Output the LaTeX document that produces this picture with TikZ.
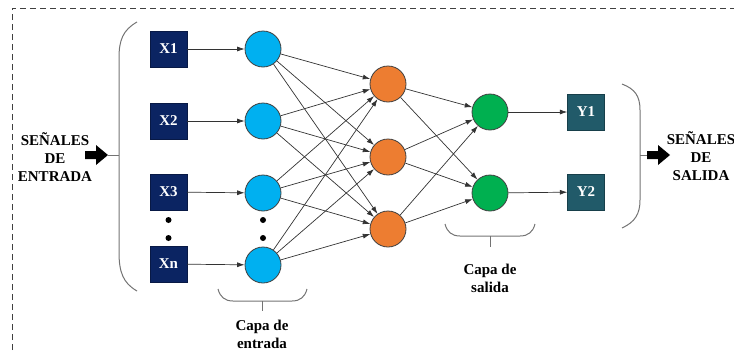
\documentclass[tikz,border=0pt]{standalone}
\usepackage{fontspec}
\setmainfont{Liberation Serif}
\usetikzlibrary{arrows.meta}
\definecolor{inbox}{HTML}{0B2462}
\definecolor{outbox}{HTML}{215A69}
\definecolor{nblue}{HTML}{00B0F0}
\definecolor{norange}{HTML}{ED7D31}
\definecolor{ngreen}{HTML}{00B050}
\definecolor{wire}{HTML}{333333}
\tikzset{
  inputbox/.style={draw=inbox!70!black, fill=inbox, minimum width=37pt, minimum height=36pt,
    inner sep=0pt, text=white, font=\fontsize{15}{15}\selectfont\bfseries},
  outputbox/.style={inputbox, fill=outbox, draw=outbox!70!black},
  neuron/.style={circle, draw=black!75, line width=0.8pt, minimum size=36pt, inner sep=0pt},
  link/.style={draw=wire, line width=0.7pt, -{Latex[length=7.5pt,width=5pt]}},
  brace/.style={draw=black!55, line width=1pt},
  caption/.style={align=center, font=\fontsize{15}{18}\selectfont\bfseries},
  dotmark/.style={circle, fill=black, inner sep=0pt, minimum size=6pt},
}
\begin{document}
\begin{tikzpicture}[x=1pt, y=-1pt]
\useasboundingbox (0,0) rectangle (734,351);
% dashed frame (runs past the page on the right and bottom)
\begin{scope}
\clip (0,0) rectangle (734,351);
\draw[black!75, line width=0.8pt, dash pattern=on 6pt off 4pt] (12,360) -- (12,8) -- (740,8);
\end{scope}

% input values
\node[inputbox] (x1) at (168.5,49) {X1};
\node[inputbox] (x2) at (168.5,121) {X2};
\node[inputbox] (x3) at (168.5,192) {X3};
\node[inputbox] (xn) at (168.5,264) {Xn};
\node[dotmark] (xd1) at (168.5,220) {};
\node[dotmark] (xd2) at (168.5,238) {};

% input layer
\node[neuron, fill=nblue] (i1) at (263,49) {};
\node[neuron, fill=nblue] (i2) at (263,121) {};
\node[neuron, fill=nblue] (i3) at (263,193) {};
\node[neuron, fill=nblue] (i4) at (263,265) {};
\node[dotmark] (id1) at (263,220) {};
\node[dotmark] (id2) at (263,238) {};

% hidden layer
\node[neuron, fill=norange] (h1) at (388,84) {};
\node[neuron, fill=norange] (h2) at (388,157) {};
\node[neuron, fill=norange] (h3) at (388,229) {};

% output layer
\node[neuron, fill=ngreen] (o1) at (490,112) {};
\node[neuron, fill=ngreen] (o2) at (490,193) {};

% output values
\node[outputbox] (y1) at (586,112) {Y1};
\node[outputbox] (y2) at (586,192) {Y2};

% connections
\draw[link] (x1) -- (i1);
\draw[link] (x2) -- (i2);
\draw[link] (x3) -- (i3);
\draw[link] (xn) -- (i4);
\foreach \a in {i1,i2,i3,i4}
  \foreach \b in {h1,h2,h3}
    \draw[link] (\a) -- (\b);
\foreach \a in {h1,h2,h3}
  \foreach \b in {o1,o2}
    \draw[link] (\a) -- (\b);
\draw[link] (o1) -- (y1);
\draw[link] (o2) -- (y2);

% left bracket with incoming signal arrow
\coordinate (lb) at (119,155);
\draw[brace] (137,22) .. controls (123,30) and (119,40) .. (119,58) -- (119,252)
  .. controls (119,272) and (123,283) .. (137,291);
\fill[black] (85,151) -- (96,151) -- (96,145) -- (108,155) -- (96,165) -- (96,159) -- (85,159) -- cycle;
\coordinate (la) at (108,155);
\draw[brace] (la) -- (lb);
\node[caption] (inlabel) at (55,157) {SEÑALES\\DE\\ENTRADA};

% right bracket with outgoing signal arrow
\coordinate (rb) at (640,155);
\draw[brace] (622,84) .. controls (635,89) and (640,96) .. (640,110) -- (640,200)
  .. controls (640,214) and (635,222) .. (622,228);
\coordinate (ra) at (647,155);
\draw[brace] (rb) -- (ra);
\fill[black] (647,151) -- (658,151) -- (658,145) -- (670,155) -- (658,165) -- (658,159) -- (647,159) -- cycle;
\node[caption] (outlabel) at (701,156) {SEÑALES\\DE\\SALIDA};

% bottom braces with layer names
\draw[brace] (218,289) .. controls (220,297) and (225,301) .. (233,301) -- (292,301)
  .. controls (300,301) and (305,297) .. (307,289);
\coordinate (ib) at (262,301);
\coordinate (it) at (262,311);
\draw[brace] (ib) -- (it);
\node[caption] (incap) at (262,334) {Capa de\\entrada};

\draw[brace] (445,224) .. controls (447,232) and (452,236) .. (460,236) -- (520,236)
  .. controls (528,236) and (533,232) .. (535,224);
\coordinate (ob) at (490,236);
\coordinate (ot) at (490,247);
\draw[brace] (ob) -- (ot);
\node[caption] (outcap) at (490,278) {Capa de\\salida};
\end{tikzpicture}
\end{document}
